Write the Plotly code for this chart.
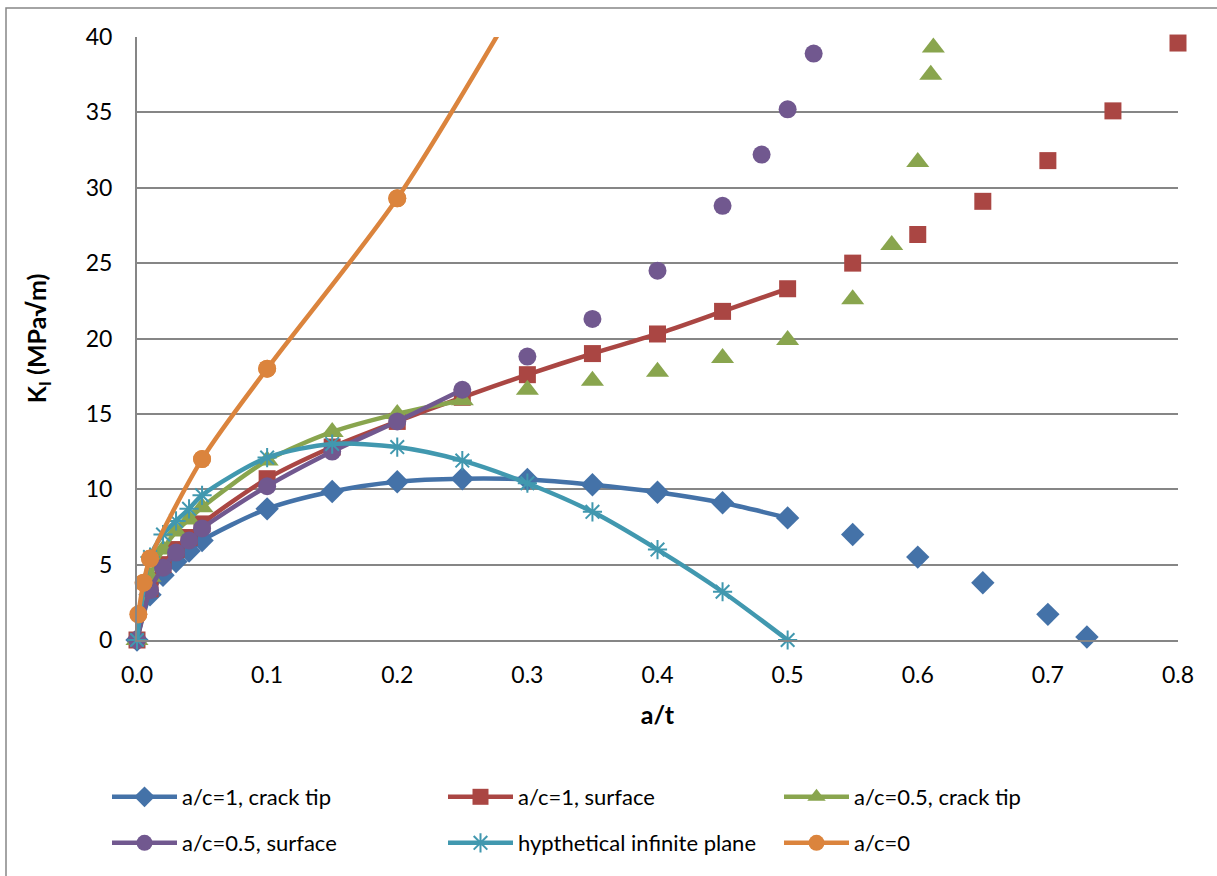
import plotly.graph_objects as go

# ---------------- data ----------------
names = ["a/c=1, crack tip", "a/c=1, surface", "a/c=0.5, crack tip",
         "a/c=0.5, surface", "hypthetical infinite plane", "a/c=0"]

# connected (smoothed) portions
blue_x = [0, 0.01, 0.02, 0.03, 0.04, 0.05, 0.1, 0.15, 0.2, 0.25, 0.3, 0.35, 0.4, 0.45, 0.5]
blue_y = [0, 3.0, 4.3, 5.2, 5.9, 6.6, 8.7, 9.85, 10.5, 10.7, 10.65, 10.3, 9.8, 9.1, 8.1]
red_x = [0, 0.01, 0.02, 0.03, 0.04, 0.05, 0.1, 0.15, 0.2, 0.25, 0.3, 0.35, 0.4, 0.45, 0.5]
red_y = [0, 3.4, 5.0, 6.0, 6.8, 7.7, 10.7, 12.8, 14.5, 16.1, 17.6, 19.0, 20.3, 21.8, 23.3]
green_x = [0, 0.01, 0.02, 0.03, 0.04, 0.05, 0.1, 0.15, 0.2, 0.25]
green_y = [0, 4.2, 6.0, 7.2, 8.0, 8.8, 11.9, 13.8, 15.0, 15.9]
purple_x = [0, 0.01, 0.02, 0.03, 0.04, 0.05, 0.1, 0.15, 0.2, 0.25]
purple_y = [0, 3.3, 4.8, 5.8, 6.6, 7.4, 10.2, 12.5, 14.5, 16.6]
cyan_x = [0, 0.01, 0.02, 0.03, 0.04, 0.05, 0.1, 0.15, 0.2, 0.25, 0.3, 0.35, 0.4, 0.45, 0.5]
cyan_y = [0, 5.5, 7.0, 7.9, 8.7, 9.6, 12.1, 13.0, 12.8, 11.9, 10.4, 8.5, 6.0, 3.2, 0]
orange_x = [0.001, 0.005, 0.01, 0.05, 0.1, 0.2, 0.3]
orange_y = [1.7, 3.8, 5.4, 12.0, 18.0, 29.3, 43.5]

# unconnected marker-only portions
blue_px = [0.55, 0.6, 0.65, 0.7, 0.73]
blue_py = [7.0, 5.5, 3.8, 1.7, 0.2]
red_px = [0.55, 0.6, 0.65, 0.7, 0.75, 0.8]
red_py = [25.0, 26.9, 29.1, 31.8, 35.1, 39.6]
green_px = [0.3, 0.35, 0.4, 0.45, 0.5, 0.55, 0.58, 0.6, 0.61, 0.612]
green_py = [16.6, 17.2, 17.8, 18.7, 19.9, 22.6, 26.2, 31.7, 37.5, 39.3]
purple_px = [0.3, 0.35, 0.4, 0.45, 0.48, 0.5, 0.52]
purple_py = [18.8, 21.3, 24.5, 28.8, 32.2, 35.2, 38.9]

x_ticks = [0, 0.1, 0.2, 0.3, 0.4, 0.5, 0.6, 0.7, 0.8]
y_ticks = [0, 5, 10, 15, 20, 25, 30, 35, 40]

# ---------------- style ----------------
colors = ["#4472A8", "#AA4643", "#89A54E", "#71588F", "#4198AF", "#DB843D"]
symbols = ["diamond", "square", "triangle-up", "circle", "asterisk-open", "circle"]
sizes = [18, 17, 20, 18, 16, 18]
FONT = "Lato, Carlito, Calibri, sans-serif"

conn = [(blue_x, blue_y), (red_x, red_y), (green_x, green_y),
        (purple_x, purple_y), (cyan_x, cyan_y), (orange_x, orange_y)]
pts = [(blue_px, blue_py), (red_px, red_py), (green_px, green_py),
       (purple_px, purple_py), None, None]

fig = go.Figure()
for i in range(6):
    marker = dict(symbol=symbols[i], size=sizes[i], color=colors[i])
    if symbols[i] == "asterisk-open":
        marker["line"] = dict(color=colors[i], width=2)
    is_orange = (i == 5)
    fig.add_trace(go.Scatter(
        x=conn[i][0], y=conn[i][1], mode="lines+markers", name=names[i],
        line=dict(color=colors[i], width=4.5, shape="spline", smoothing=0.8),
        marker=marker, legend="legend" if i < 3 else "legend2",
        cliponaxis=is_orange,
    ))
    if pts[i] is not None:
        fig.add_trace(go.Scatter(
            x=pts[i][0], y=pts[i][1], mode="markers", showlegend=False,
            marker=marker, cliponaxis=False,
        ))
    if is_orange:
        # markers inside the axis range, drawn unclipped at the left edge
        fig.add_trace(go.Scatter(
            x=orange_x[:-1], y=orange_y[:-1], mode="markers", showlegend=False,
            marker=marker, cliponaxis=False,
        ))

L, R, T, B = 137, 39, 37, 236
W, H = 1217, 876
pw, ph = W - L - R, H - T - B

def px_x(px):
    return (px - L) / pw

def px_y(py):
    return (H - B - py) / ph

fig.update_layout(
    width=W, height=H,
    margin=dict(l=L, r=R, t=T, b=B),
    paper_bgcolor="white", plot_bgcolor="white",
    font=dict(family=FONT, size=23, color="#000000"),
    xaxis=dict(
        range=[0, 0.8], tickvals=x_ticks, tickformat=".1f",
        showgrid=False, zeroline=False,
        showline=True, linecolor="#868686", linewidth=2,
        ticks="", ticklabelstandoff=13,
        title=dict(text="<b>a/t</b>", font=dict(size=25), standoff=20),
    ),
    yaxis=dict(
        range=[0, 40], tickvals=y_ticks,
        showgrid=True, gridcolor="#868686", gridwidth=1.5,
        zeroline=False, showline=True, linecolor="#868686", linewidth=2,
        ticks="", ticklabelstandoff=18,
        title=dict(text="<b>K<sub>I</sub> (MPa√m)</b>", font=dict(size=25), standoff=32),
    ),
    legend=dict(
        orientation="h", x=px_x(107), xanchor="left", y=px_y(797), yanchor="middle",
        itemwidth=65, entrywidth=256, font=dict(size=22), bgcolor="rgba(0,0,0,0)",
    ),
    legend2=dict(
        orientation="h", x=px_x(107), xanchor="left", y=px_y(843), yanchor="middle",
        itemwidth=65, entrywidth=256, font=dict(size=22), bgcolor="rgba(0,0,0,0)",
    ),
    shapes=[dict(
        type="rect", xref="paper", yref="paper",
        x0=px_x(6), x1=px_x(1230), y0=px_y(890), y1=px_y(8),
        line=dict(color="#868686", width=1.5), fillcolor="rgba(0,0,0,0)", layer="below",
    )],
)

fig.write_html("out.html")
